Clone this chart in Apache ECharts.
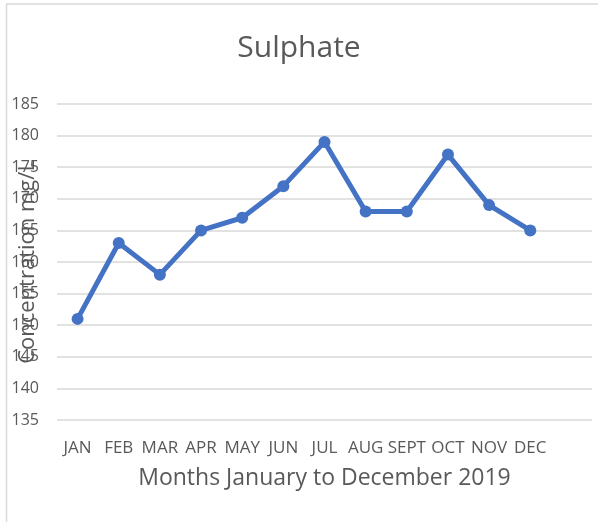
<!DOCTYPE html>
<html>
<head>
<meta charset="utf-8">
<script src="https://cdn.jsdelivr.net/npm/echarts@6/dist/echarts.min.js"></script>
<style>
  html, body { margin: 0; padding: 0; background: #fff; }
  #main { width: 598px; height: 522px; }
</style>
</head>
<body>
<div id="main"></div>
<script>
// 月份（最后一格在原图里是空的）
var months = ['JAN', 'FEB', 'MAR', 'APR', 'MAY', 'JUN', 'JUL', 'AUG', 'SEPT', 'OCT', 'NOV', 'DEC', '']
// 硫酸盐浓度 mg/L
var sulphate = [151, 163, 158, 165, 167, 172, 179, 168, 168, 177, 169, 165, null]
var yMin = 135
var yMax = 185
var yStep = 5

var textColor = '#595959'
var font = 'Open Sans'

var chart = echarts.init(document.getElementById('main'))

var option = {
  animation: false,
  title: {
    text: 'Sulphate',
    left: 'center',
    top: 28,
    textStyle: {
      color: textColor,
      fontFamily: font,
      fontSize: 30,
      fontWeight: 'normal'
    }
  },
  grid: {
    left: 57,
    right: 6,
    top: 104,
    bottom: 102,
    outerBoundsMode: 'none',
    containLabel: false
  },
  xAxis: {
    type: 'category',
    boundaryGap: true,
    data: months,
    name: 'Months January to December 2019',
    nameLocation: 'middle',
    nameGap: 47,
    nameMoveOverlap: false,
    nameTextStyle: {
      color: textColor,
      fontFamily: font,
      fontSize: 23
    },
    axisLine: { show: false },
    axisTick: { show: false },
    axisLabel: {
      interval: 0,
      hideOverlap: false,
      margin: 20,
      color: textColor,
      fontFamily: font,
      fontSize: 17
    }
  },
  yAxis: {
    type: 'value',
    min: yMin,
    max: yMax,
    interval: yStep,
    name: 'Concentration mg/L',
    nameLocation: 'middle',
    nameGap: 18,
    nameMoveOverlap: false,
    nameTextStyle: {
      color: textColor,
      fontFamily: font,
      fontSize: 22
    },
    axisLine: { show: false },
    axisTick: { show: false },
    axisLabel: {
      margin: 18,
      color: textColor,
      fontFamily: font,
      fontSize: 16
    },
    splitLine: {
      lineStyle: {
        color: '#d9d9d9',
        width: 1.5
      }
    }
  },
  series: [
    {
      name: 'Sulphate',
      type: 'line',
      data: sulphate,
      symbol: 'circle',
      symbolSize: 12,
      lineStyle: {
        color: '#4472c4',
        width: 5
      },
      itemStyle: {
        color: '#4472c4'
      }
    }
  ],
  // 图表外框（原图只露出左、上两边）
  graphic: [
    {
      type: 'line',
      shape: { x1: 6.5, y1: 4, x2: 6.5, y2: 522 },
      style: { stroke: '#d9d9d9', lineWidth: 1.5 }
    },
    {
      type: 'line',
      shape: { x1: 6, y1: 4, x2: 598, y2: 4 },
      style: { stroke: '#d9d9d9', lineWidth: 1.5 }
    }
  ]
}

chart.setOption(option)
</script>
</body>
</html>
